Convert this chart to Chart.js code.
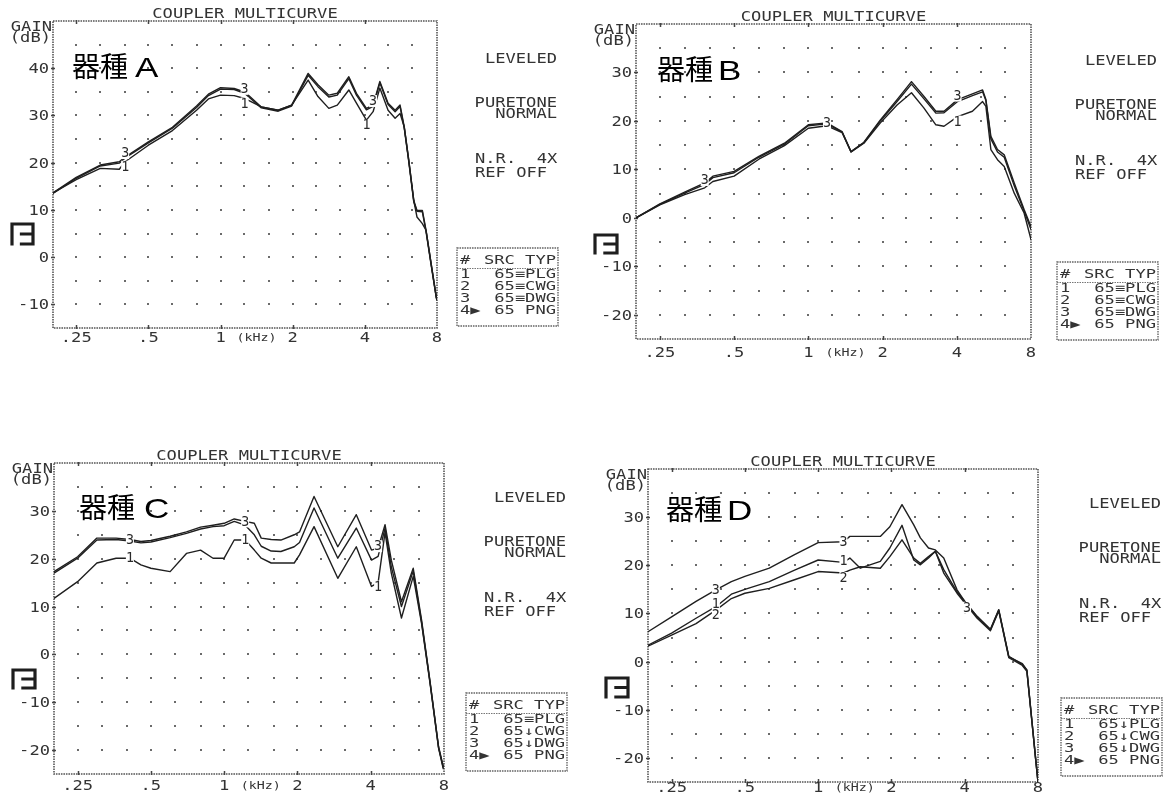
<!DOCTYPE html>
<html>
<head>
<meta charset="utf-8">
<title>Coupler multicurve</title>
<script src="https://cdn.jsdelivr.net/npm/chart.js@4.4.1/dist/chart.umd.min.js"></script>
<style>
  html, body { margin: 0; padding: 0; background: #fff; }
  #wrap { position: relative; width: 1169px; height: 800px; overflow: hidden; background: #fff; }
  #wrap canvas { position: absolute; left: 0; top: 0; }
</style>
</head>
<body>
<div id="wrap">
  <canvas id="cA" width="1169" height="800"></canvas>
  <canvas id="cB" width="1169" height="800"></canvas>
  <canvas id="cC" width="1169" height="800"></canvas>
  <canvas id="cD" width="1169" height="800"></canvas>
</div>
<script>
// ---- frequency axis (kHz) ----
const xTickValues = [0.25, 0.5, 1, 2, 4, 8];
const xTickLabels = ['.25', '.5', '1', '2', '4', '8'];
const thirdOctaves = [0.25, 0.315, 0.4, 0.5, 0.63, 0.8, 1, 1.25, 1.6, 2, 2.5, 3.15, 4, 5, 6.3];

// ---- gain axis ticks (dB) ----
const yTicksA = [40, 30, 20, 10, 0, -10];
const yTicksB = [30, 20, 10, 0, -10, -20];
const yTicksC = [30, 20, 10, 0, -10, -20];
const yTicksD = [30, 20, 10, 0, -10, -20];

// ---- 器種A ----
const freqA = [0.2, 0.25, 0.315, 0.378, 0.4, 0.5, 0.63, 0.794, 0.89, 1.0, 1.14, 1.26, 1.48, 1.74, 1.98, 2.32, 2.55, 2.83, 3.07, 3.43, 3.69, 4.06, 4.33, 4.62, 5.0, 5.35, 5.61, 5.84, 6.1, 6.4, 6.6, 6.95, 7.2, 7.6, 7.95, 8.0];
const gainA1 = [13.6, 16.4, 18.8, 18.6, 20.2, 23.7, 26.8, 31.1, 33.5, 34.3, 34.2, 33.6, 31.8, 31.1, 32.2, 37.5, 34.0, 31.5, 32.2, 35.4, 32.6, 29.0, 30.8, 35.8, 31.1, 29.4, 30.4, 27.6, 20.5, 12.0, 8.5, 7.1, 5.7, -2.1, -8.5, -9.0];
const gainA2 = [13.5, 16.7, 19.3, 19.9, 21.0, 24.2, 27.3, 31.7, 34.2, 35.6, 35.5, 34.7, 31.6, 30.9, 32.0, 38.5, 36.1, 33.9, 34.3, 37.8, 34.3, 31.2, 31.9, 36.9, 32.3, 30.8, 31.9, 27.3, 20.2, 11.7, 9.7, 9.6, 5.4, -2.4, -8.7, -9.2];
const gainA3 = [13.6, 16.9, 19.5, 20.2, 21.2, 24.4, 27.5, 32.0, 34.5, 35.9, 35.7, 35.0, 31.8, 31.1, 32.2, 38.9, 36.5, 34.3, 34.7, 38.2, 34.7, 31.5, 32.2, 37.2, 32.6, 31.1, 32.2, 27.6, 20.5, 12.0, 9.9, 9.9, 5.7, -2.1, -8.5, -9.0];

// ---- 器種B ----
const freqB = [0.2, 0.25, 0.315, 0.38, 0.41, 0.5, 0.63, 0.8, 1.0, 1.19, 1.37, 1.49, 1.68, 1.96, 2.29, 2.62, 2.94, 3.29, 3.55, 4.03, 4.63, 5.09, 5.25, 5.5, 5.85, 6.23, 6.84, 7.5, 8.0];
const gainB1 = [0.0, 2.7, 4.8, 6.2, 7.5, 8.6, 12.1, 14.9, 18.5, 19.0, 17.6, 13.6, 15.4, 19.6, 23.3, 25.8, 22.7, 19.2, 18.9, 20.9, 22.0, 24.0, 23.0, 14.1, 12.0, 10.6, 5.1, 1.0, -4.5];
const gainB2 = [0.0, 2.8, 5.1, 6.9, 8.3, 9.3, 12.5, 15.2, 19.0, 19.4, 17.7, 13.6, 15.5, 20.0, 24.0, 27.6, 24.6, 21.6, 21.7, 24.0, 25.2, 26.0, 24.2, 16.3, 13.6, 12.5, 6.6, 1.4, -2.4];
const gainB3 = [0.0, 2.9, 5.3, 7.2, 8.6, 9.6, 12.7, 15.4, 19.2, 19.6, 17.8, 13.7, 15.6, 20.2, 24.4, 28.1, 25.1, 22.0, 22.0, 24.4, 25.6, 26.4, 24.4, 16.8, 14.1, 13.0, 7.2, 1.7, -1.8];

// ---- 器種C ----
const freqC = [0.2, 0.25, 0.3, 0.36, 0.41, 0.455, 0.5, 0.6, 0.7, 0.8, 0.9, 1.0, 1.1, 1.22, 1.33, 1.42, 1.56, 1.71, 1.94, 2.04, 2.34, 2.93, 3.49, 4.03, 4.29, 4.58, 4.86, 5.35, 5.98, 6.47, 7.0, 7.6, 7.95];
const gainC1 = [11.7, 15.2, 19.1, 20.1, 20.1, 18.7, 18.0, 17.3, 21.1, 21.8, 20.1, 20.1, 23.9, 23.9, 21.8, 20.1, 19.1, 19.1, 19.1, 20.8, 26.7, 15.9, 22.5, 14.2, 15.0, 25.5, 17.0, 7.6, 16.3, 6.5, -5.8, -19.6, -24.0];
const gainC2 = [17.0, 20.1, 23.9, 24.0, 23.7, 23.3, 23.5, 24.4, 25.3, 26.2, 26.7, 26.9, 27.8, 27.0, 25.0, 22.6, 21.6, 21.5, 22.5, 23.4, 30.6, 20.1, 26.4, 19.7, 20.5, 26.4, 18.3, 10.0, 17.4, 6.8, -5.6, -19.5, -23.7];
const gainC3 = [17.3, 20.4, 24.3, 24.3, 24.0, 23.6, 23.8, 24.7, 25.6, 26.6, 27.0, 27.4, 28.3, 27.8, 27.4, 24.3, 24.0, 23.9, 25.0, 25.6, 33.0, 22.5, 29.2, 21.8, 22.2, 27.1, 19.7, 11.0, 18.0, 7.2, -5.4, -19.3, -23.5];

// ---- 器種D ----
const freqD = [0.2, 0.25, 0.315, 0.38, 0.44, 0.5, 0.63, 0.8, 1.0, 1.27, 1.35, 1.49, 1.8, 1.97, 2.21, 2.47, 2.63, 2.84, 3.03, 3.28, 3.72, 4.09, 4.5, 5.1, 5.52, 6.07, 6.9, 7.2, 7.57, 7.82, 8.0];
const gainD1 = [3.4, 5.9, 9.0, 11.4, 14.0, 15.0, 16.6, 19.0, 21.1, 20.6, 21.5, 19.4, 20.8, 23.6, 28.3, 21.1, 20.1, 21.5, 22.9, 18.4, 14.2, 11.6, 9.0, 6.4, 10.5, 0.8, -0.8, -2.0, -13.0, -20.2, -25.0];
const gainD2 = [3.2, 5.5, 7.9, 10.7, 13.1, 14.2, 15.2, 17.0, 18.7, 18.4, 19.0, 19.7, 19.4, 21.8, 25.3, 21.5, 20.4, 21.8, 22.9, 19.1, 14.5, 11.9, 9.4, 6.7, 10.8, 1.1, -0.6, -1.8, -12.9, -20.1, -25.0];
const gainD3 = [6.2, 9.3, 12.5, 14.9, 16.6, 17.7, 19.4, 22.2, 24.7, 24.9, 26.0, 26.0, 26.0, 28.0, 32.6, 28.4, 25.7, 23.6, 23.2, 21.5, 14.9, 11.8, 9.3, 6.6, 10.7, 1.0, -0.4, -1.7, -12.8, -20.0, -25.0];

// ---- curve numbers and legend table ----
const curveNames = ['1', '2', '3'];
const legendA = [['1', '65≡PLG'], ['2', '65≡CWG'], ['3', '65≡DWG'], ['4▶', '65 PNG']];
const legendB = [['1', '65≡PLG'], ['2', '65≡CWG'], ['3', '65≡DWG'], ['4▶', '65 PNG']];
const legendC = [['1', '65≡PLG'], ['2', '65↓CWG'], ['3', '65↓DWG'], ['4▶', '65 PNG']];
const legendD = [['1', '65↓PLG'], ['2', '65↓CWG'], ['3', '65↓DWG'], ['4▶', '65 PNG']];
const sideLines = ['LEVELED', 'PURETONE', 'NORMAL', 'N.R.  4X', 'REF OFF'];

const MONO = '"DejaVu Sans Mono", "Liberation Mono", monospace';
const INK = '#333';

// Wide, thin dot-matrix style text: monospace glyphs stretched to a fixed advance.
function ptext(ctx, str, x, y, o = {}) {
  const size = o.size || 14;
  const adv = o.adv || 10.3;
  ctx.save();
  ctx.font = size + 'px ' + MONO;
  const sx = adv / ctx.measureText('M').width;
  const w = ctx.measureText(str).width * sx;
  let x0 = x;
  if (o.align === 'right') x0 = x - w;
  else if (o.align === 'center') x0 = x - w / 2;
  ctx.translate(x0, y);
  ctx.scale(sx, 1);
  ctx.fillStyle = o.color || INK;
  ctx.textAlign = 'left';
  ctx.textBaseline = o.baseline || 'alphabetic';
  ctx.fillText(str, 0, 0);
  ctx.restore();
}

function dottedRect(ctx, l, t, r, b, width, color) {
  ctx.save();
  ctx.strokeStyle = color;
  ctx.lineWidth = width;
  ctx.setLineDash([1.6, 0.9]);
  ctx.strokeRect(l, t, r - l, b - t);
  ctx.restore();
}

function drawIcon(ctx, x, y, w, h) {
  ctx.save();
  ctx.strokeStyle = '#1e1e1e';
  ctx.lineWidth = 3.2;
  ctx.lineCap = 'square';
  ctx.beginPath();
  ctx.moveTo(x, y + h); ctx.lineTo(x, y); ctx.lineTo(x + w, y); ctx.lineTo(x + w, y + h); ctx.lineTo(x + w * 0.45, y + h);
  ctx.moveTo(x + w * 0.45, y + h * 0.5); ctx.lineTo(x + w, y + h * 0.5);
  ctx.stroke();
  ctx.restore();
}

const panels = [
  { id: 'cA', model: 'A', freq: freqA, curves: [gainA1, gainA2, gainA3], yMin: -15, yMax: 50, yTicks: yTicksA, legend: legendA,
    area: { l: 53, t: 21, r: 437, b: 328 }, xLabelY: 342, sideX: 557, sideY: 63, boxTop: 248,
    icon: { x: 12, y: 224, w: 21, h: 20 }, modelAt: { x: 72, y: 77, gap: 7 },
    marks: [{ c: 2, i: 4, dy: -4 }, { c: 0, i: 4, dy: 5 }, { c: 2, i: 11, dy: -3 }, { c: 0, i: 11, dy: 5 }, { c: 2, i: 22, dy: -4 }, { c: 0, i: 21, dy: 5 }] },
  { id: 'cB', model: 'B', freq: freqB, curves: [gainB1, gainB2, gainB3], yMin: -25, yMax: 40, yTicks: yTicksB, legend: legendB,
    area: { l: 636, t: 24, r: 1031, b: 339 }, xLabelY: 357, sideX: 1157, sideY: 65, boxTop: 262,
    icon: { x: 595, y: 235, w: 22, h: 18 }, modelAt: { x: 657, y: 80, gap: 5 },
    marks: [{ c: 2, i: 3, dy: -3 }, { c: 2, i: 9, dy: 0 }, { c: 2, i: 19, dy: -4 }, { c: 0, i: 19, dy: 5 }] },
  { id: 'cC', model: 'C', freq: freqC, curves: [gainC1, gainC2, gainC3], yMin: -25, yMax: 40, yTicks: yTicksC, legend: legendC,
    area: { l: 54, t: 463, r: 444, b: 774 }, xLabelY: 790, sideX: 566, sideY: 502, boxTop: 693,
    icon: { x: 13, y: 670, w: 22, h: 18 }, modelAt: { x: 79, y: 518, gap: 9 },
    marks: [{ c: 2, i: 4, dy: 0 }, { c: 0, i: 4, dy: 0 }, { c: 2, i: 13, dy: 0 }, { c: 0, i: 13, dy: 0 }, { c: 2, i: 24, dy: -2 }, { c: 0, i: 24, dy: 4 }] },
  { id: 'cD', model: 'D', freq: freqD, curves: [gainD1, gainD2, gainD3], yMin: -25, yMax: 40, yTicks: yTicksD, legend: legendD,
    area: { l: 648, t: 469, r: 1038, b: 782 }, xLabelY: 792, sideX: 1161, sideY: 508, boxTop: 698,
    icon: { x: 606, y: 678, w: 22, h: 19 }, modelAt: { x: 666, y: 520, gap: 5 },
    marks: [{ c: 2, i: 3, dy: 0 }, { c: 0, i: 3, dy: -3 }, { c: 1, i: 3, dy: 5 }, { c: 2, i: 9, dy: 0 }, { c: 0, i: 9, dy: -2 }, { c: 1, i: 9, dy: 5 }, { c: 2, i: 21, dy: 3 }] }
];

function makeDecor(p) {
  return {
    id: 'decor' + p.model,
    beforeDatasetsDraw(chart) {
      const ctx = chart.ctx;
      const a = chart.chartArea;
      const xs = chart.scales.x, ys = chart.scales.y;
      // dot grid: 1/3-octave columns, 5 dB rows
      ctx.save();
      ctx.fillStyle = 'rgba(70,70,70,0.8)';
      for (const f of thirdOctaves) {
        const px = xs.getPixelForValue(f);
        for (let v = p.yMin + 5; v < p.yMax; v += 5) {
          const py = ys.getPixelForValue(v);
          ctx.fillRect(Math.round(px) - 1, Math.round(py) - 1, 2, 2);
        }
      }
      ctx.restore();
      // frame
      dottedRect(ctx, a.left, a.top, a.right, a.bottom, 1.6, '#555');
      ctx.save();
      ctx.strokeStyle = '#444';
      ctx.lineWidth = 1.5;
      ctx.beginPath();
      for (const f of xTickValues.slice(0, 5)) {
        const px = Math.round(xs.getPixelForValue(f)) + 0.5;
        ctx.moveTo(px, a.top - 1); ctx.lineTo(px, a.top + 3);
        ctx.moveTo(px, a.bottom + 1); ctx.lineTo(px, a.bottom - 3);
      }
      for (const v of p.yTicks) {
        const py = Math.round(ys.getPixelForValue(v)) + 0.5;
        ctx.moveTo(a.left - 2, py); ctx.lineTo(a.left + 2, py);
      }
      ctx.stroke();
      ctx.restore();
    },
    afterDatasetsDraw(chart) {
      const ctx = chart.ctx;
      const a = chart.chartArea;
      const xs = chart.scales.x, ys = chart.scales.y;
      // curve numbers printed on the traces
      for (const m of p.marks) {
        const pt = chart.getDatasetMeta(m.c).data[m.i];
        const cx = pt.x, cy = pt.y + m.dy;
        ctx.fillStyle = '#fff';
        ctx.fillRect(cx - 4, cy - 6, 8, 12);
        ptext(ctx, curveNames[m.c], cx, cy + 0.5, { size: 14, adv: 8, align: 'center', baseline: 'middle', color: '#2a2a2a' });
      }
      // title and axis captions
      ptext(ctx, 'COUPLER MULTICURVE', (a.left + a.right) / 2, a.top - 3, { align: 'center' });
      ptext(ctx, 'GAIN', a.left - 1, a.top + 10, { align: 'right' });
      ptext(ctx, '(dB)', a.left - 2, a.top + 21, { align: 'right' });
      for (const v of p.yTicks) {
        ptext(ctx, String(v), a.left - 4, ys.getPixelForValue(v) + 5, { align: 'right' });
      }
      xTickValues.forEach((f, k) => {
        ptext(ctx, xTickLabels[k], xs.getPixelForValue(f), p.xLabelY, { align: 'center' });
      });
      ptext(ctx, '(kHz)', xs.getPixelForValue(Math.SQRT2), p.xLabelY - 1, { size: 10, adv: 8, align: 'center' });
      // model name
      const mp = p.modelAt;
      ctx.save();
      ctx.fillStyle = '#000';
      ctx.font = '28px "Noto Sans CJK JP"';
      ctx.textBaseline = 'alphabetic';
      ctx.fillText('器種', mp.x, mp.y);
      const w = ctx.measureText('器種').width;
      ctx.font = '28px "Liberation Sans", Arial, sans-serif';
      ctx.translate(mp.x + w + mp.gap, mp.y);
      ctx.scale(1.25, 1);
      ctx.fillText(p.model, 0, 0);
      ctx.restore();
      drawIcon(ctx, p.icon.x, p.icon.y, p.icon.w, p.icon.h);
      // measurement settings
      const xr = p.sideX, y0 = p.sideY;
      ptext(ctx, sideLines[0], xr, y0, { align: 'right' });
      ptext(ctx, sideLines[1], xr, y0 + 44, { align: 'right' });
      ptext(ctx, sideLines[2], xr, y0 + 55, { align: 'right' });
      ptext(ctx, sideLines[3], xr - 82, y0 + 100);
      ptext(ctx, sideLines[4], xr - 82, y0 + 114);
      // curve table
      const bt = p.boxTop, bl = xr - 100;
      dottedRect(ctx, bl, bt, xr + 1, bt + 78, 1.4, '#666');
      const small = { size: 12, adv: 10.3 };
      ptext(ctx, '#', bl + 3, bt + 16, small);
      ptext(ctx, 'SRC TYP', xr - 1, bt + 16, Object.assign({ align: 'right' }, small));
      ctx.save();
      ctx.strokeStyle = '#777';
      ctx.lineWidth = 1;
      ctx.setLineDash([1.5, 1]);
      ctx.beginPath();
      ctx.moveTo(bl, bt + 20.5); ctx.lineTo(xr + 1, bt + 20.5);
      ctx.stroke();
      ctx.restore();
      p.legend.forEach((row, k) => {
        const by = bt + 30 + k * 12;
        ptext(ctx, row[0], bl + 3, by, small);
        ptext(ctx, row[1], xr - 1, by, Object.assign({ align: 'right' }, small));
      });
    }
  };
}

for (const p of panels) {
  const datasets = p.curves.map((vals, k) => ({
    label: curveNames[k],
    data: p.freq.map((f, i) => ({ x: f, y: vals[i] })),
    borderColor: '#1f1f1f',
    borderWidth: 1.4,
    borderJoinStyle: 'round',
    pointRadius: 0,
    tension: 0,
    fill: false
  }));
  new Chart(document.getElementById(p.id), {
    type: 'line',
    data: { datasets },
    options: {
      responsive: false,
      animation: false,
      devicePixelRatio: 1,
      layout: { padding: { left: p.area.l, top: p.area.t, right: 1169 - p.area.r, bottom: 800 - p.area.b } },
      scales: {
        x: { type: 'logarithmic', min: 0.2, max: 8, display: false },
        y: { type: 'linear', min: p.yMin, max: p.yMax, display: false }
      },
      plugins: { legend: { display: false }, tooltip: { enabled: false }, title: { display: false } }
    },
    plugins: [makeDecor(p)]
  });
}
</script>
</body>
</html>
